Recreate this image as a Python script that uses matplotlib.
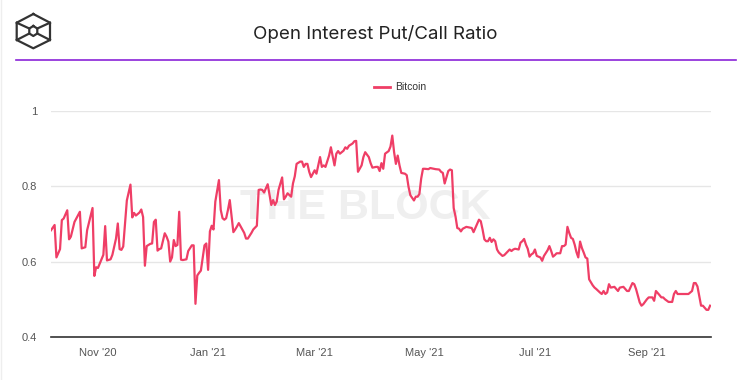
import pandas as pd
import matplotlib.pyplot as plt
from matplotlib.lines import Line2D

# Data: day offset from the first observation and the put/call ratio
start = pd.Timestamp('2020-10-06')
day = [0, 2, 3, 5, 6, 7, 9, 10, 11, 13, 16, 17, 19, 20, 23, 24, 25, 26, 28, 29,
       30, 31, 33, 34, 36, 37, 38, 39, 40, 42, 44, 45, 46, 47, 49, 50, 51, 52, 53, 55,
       56, 57, 58, 59, 60, 61, 63, 64, 65, 66, 67, 68, 69, 70, 71, 72,
       73, 75, 76, 78, 79, 80, 81, 82, 83, 85, 86, 87, 88, 89, 90, 91, 93, 94, 95, 96,
       97, 98, 99, 101, 102, 103, 104, 106, 107, 108, 109, 111, 112, 114, 115, 116, 117, 118, 119, 120,
       122, 123, 124, 125, 126, 128, 129, 130, 131, 133, 134, 135, 136, 138, 139, 140, 141, 142, 143, 144,
       146, 147, 149, 150, 151, 152, 154, 155, 157, 158, 159, 160, 162, 163, 164, 165, 167, 168, 169, 170,
       172, 173, 174, 176, 177, 178, 180, 181, 182, 183, 184, 185, 187, 188, 189, 190, 191, 192, 193, 194,
       196, 197, 198, 199, 201, 202, 203, 204, 205, 206, 207, 209, 210, 212, 213, 215, 216, 217, 218,
       220, 221, 222, 223, 224, 225, 226, 227, 228, 230, 231, 233, 234, 235, 237, 238, 239, 240, 241, 242,
       243, 244, 245, 246, 247, 248, 250, 251, 252, 254, 255, 256, 257, 259, 260, 261, 262, 263, 264, 265,
       266, 267, 268, 269, 271, 272, 273, 275, 276, 277, 278, 279, 280, 282, 283, 284, 285, 286, 287, 288,
       289, 290, 291, 292, 293, 294, 295, 296, 297, 298, 299, 300, 301, 302, 304, 305, 306, 307, 308, 309,
       310, 312, 314, 315, 317, 319, 320, 322, 323, 324, 326, 327, 328, 330, 331, 333, 334, 335, 337, 338,
       339, 340, 342, 344, 345, 346, 347, 349, 351, 353, 355, 356, 357, 358, 360, 361, 363, 364, 365]
ratio = [0.683, 0.697, 0.611, 0.633, 0.710, 0.714, 0.736, 0.659, 0.666, 0.705, 0.732, 0.635, 0.638, 0.683, 0.742, 0.562, 0.585, 0.583, 0.606, 0.618,
         0.694, 0.603, 0.606, 0.618, 0.661, 0.701, 0.633, 0.631, 0.640, 0.762, 0.804, 0.717, 0.729, 0.722, 0.730, 0.738, 0.718, 0.589, 0.641, 0.647,
         0.648, 0.705, 0.711, 0.629, 0.633, 0.635, 0.675, 0.666, 0.653, 0.600, 0.611, 0.657, 0.641, 0.644, 0.732, 0.605,
         0.604, 0.606, 0.628, 0.643, 0.643, 0.488, 0.563, 0.570, 0.576, 0.643, 0.648, 0.578, 0.680, 0.695, 0.685, 0.759, 0.816, 0.737, 0.715, 0.711,
         0.715, 0.737, 0.763, 0.678, 0.685, 0.693, 0.702, 0.685, 0.676, 0.661, 0.661, 0.676, 0.685, 0.695, 0.790, 0.791, 0.790, 0.783, 0.794, 0.805,
         0.750, 0.763, 0.750, 0.759, 0.790, 0.823, 0.765, 0.772, 0.781, 0.772, 0.807, 0.826, 0.859, 0.865, 0.865, 0.851, 0.859, 0.859, 0.838, 0.824,
         0.842, 0.833, 0.877, 0.851, 0.855, 0.851, 0.881, 0.903, 0.855, 0.886, 0.893, 0.886, 0.894, 0.903, 0.899, 0.907, 0.913, 0.919, 0.920, 0.838,
         0.855, 0.877, 0.890, 0.877, 0.861, 0.849, 0.851, 0.851, 0.840, 0.861, 0.846, 0.886, 0.893, 0.905, 0.934, 0.890, 0.859, 0.881, 0.855, 0.835,
         0.833, 0.829, 0.798, 0.776, 0.762, 0.772, 0.772, 0.779, 0.820, 0.846, 0.846, 0.845, 0.848, 0.846, 0.845, 0.844, 0.838, 0.835, 0.807,
         0.840, 0.844, 0.842, 0.742, 0.720, 0.689, 0.687, 0.680, 0.687, 0.692, 0.691, 0.689, 0.678, 0.689, 0.711, 0.707, 0.685, 0.659, 0.654, 0.654,
         0.663, 0.652, 0.659, 0.654, 0.632, 0.624, 0.615, 0.617, 0.622, 0.632, 0.628, 0.632, 0.634, 0.632, 0.650, 0.654, 0.660, 0.645, 0.634, 0.613,
         0.619, 0.622, 0.632, 0.615, 0.611, 0.602, 0.615, 0.630, 0.641, 0.628, 0.613, 0.617, 0.622, 0.622, 0.641, 0.641, 0.645, 0.692, 0.676, 0.663,
         0.660, 0.645, 0.625, 0.611, 0.653, 0.636, 0.624, 0.611, 0.608, 0.553, 0.545, 0.537, 0.531, 0.527, 0.518, 0.514, 0.522, 0.514, 0.518, 0.540,
         0.531, 0.533, 0.522, 0.531, 0.533, 0.522, 0.522, 0.543, 0.540, 0.527, 0.492, 0.483, 0.487, 0.500, 0.505, 0.505, 0.496, 0.522, 0.511, 0.505,
         0.505, 0.500, 0.493, 0.493, 0.514, 0.522, 0.514, 0.514, 0.514, 0.514, 0.522, 0.543, 0.543, 0.534, 0.483, 0.483, 0.472, 0.472, 0.483]

y_ticks = [0.4, 0.6, 0.8, 1.0]
y_labels = ['0.4', '0.6', '0.8', '1']
x_ticks = ['2020-11-01', '2021-01-01', '2021-03-01', '2021-05-01', '2021-07-01', '2021-09-01']
x_labels = ["Nov '20", "Jan '21", "Mar '21", "May '21", "Jul '21", "Sep '21"]

dates = start + pd.to_timedelta(day, unit='D')
line_color = '#ef3e66'

fig = plt.figure(figsize=(7.51, 3.80), dpi=100)
fig.patch.set_facecolor('white')

# header: logo, title, purple rule
fig.text(0.4993, 0.911, 'Open Interest Put/Call Ratio', ha='center', va='center',
         fontsize=13.5, color='#222222', family='Inter')
fig.add_artist(Line2D([16/751, 736/751], [1 - 59.5/380, 1 - 59.5/380], color='#8a24d8', lw=1.2))
fig.add_artist(Line2D([1/751, 1/751], [0, 1], color='#eeeeee', lw=1))

logo = fig.add_axes([10/751, 1 - 54/380, 48/751, 46/380])
logo.set_xlim(10, 58)
logo.set_ylim(54, 8)
logo.axis('off')
outer_x = [33.3, 50, 50, 33.3, 16.7, 16.7, 33.3]
outer_y = [14, 22.7, 40, 48.3, 40, 22.7, 14]
inner_x = [33.3, 37.3, 37.3, 33.3, 29.3, 29.3, 33.3]
inner_y = [26, 28.5, 33.5, 36, 33.5, 28.5, 26]
logo.plot(outer_x, outer_y, color='#333333', lw=1.6, solid_joinstyle='round')
logo.plot(inner_x, inner_y, color='#333333', lw=1.6, solid_joinstyle='round')
for k in [1, 2, 4, 5]:
    logo.plot([outer_x[k], inner_x[k]], [outer_y[k], inner_y[k]], color='#333333', lw=1.6)

# main plot
ax = fig.add_axes([51/751, 1 - 337/380, 660/751, (337 - 110.7)/380])
ax.plot(dates, ratio, color=line_color, lw=1.6, zorder=3)
ax.set_ylim(0.4, 1.0)
ax.set_xlim(start, start + pd.Timedelta(days=365.5))
ax.set_yticks(y_ticks)
ax.set_yticklabels(y_labels)
ax.set_xticks(pd.to_datetime(x_ticks))
ax.set_xticklabels(x_labels)
ax.grid(axis='y', color='#e6e6e6', lw=1)
ax.set_axisbelow(True)
for s in ['top', 'right', 'left']:
    ax.spines[s].set_visible(False)
ax.spines['bottom'].set_color('#333333')
ax.spines['bottom'].set_linewidth(1.2)
ax.tick_params(axis='both', length=0, labelsize=8, labelcolor='#555555')
ax.tick_params(axis='y', pad=10)
ax.tick_params(axis='x', pad=8)
for lbl in ax.get_xticklabels() + ax.get_yticklabels():
    lbl.set_family('Liberation Sans')

# watermark, behind the line
ax.text(0.487, 0.453, 'THE BLOCK', transform=fig.transFigure, ha='center', va='center',
        fontsize=31, fontweight='bold', color='#efefef', family='Liberation Sans', zorder=1)

# legend
fig.add_artist(Line2D([374/751, 390/751], [1 - 87/380, 1 - 87/380], color=line_color, lw=2))
fig.text(395/751, 1 - 87/380, 'Bitcoin', ha='left', va='center', fontsize=7.5,
         color='#333333', family='Liberation Sans')

plt.savefig('out.png', dpi=100, facecolor='white')
